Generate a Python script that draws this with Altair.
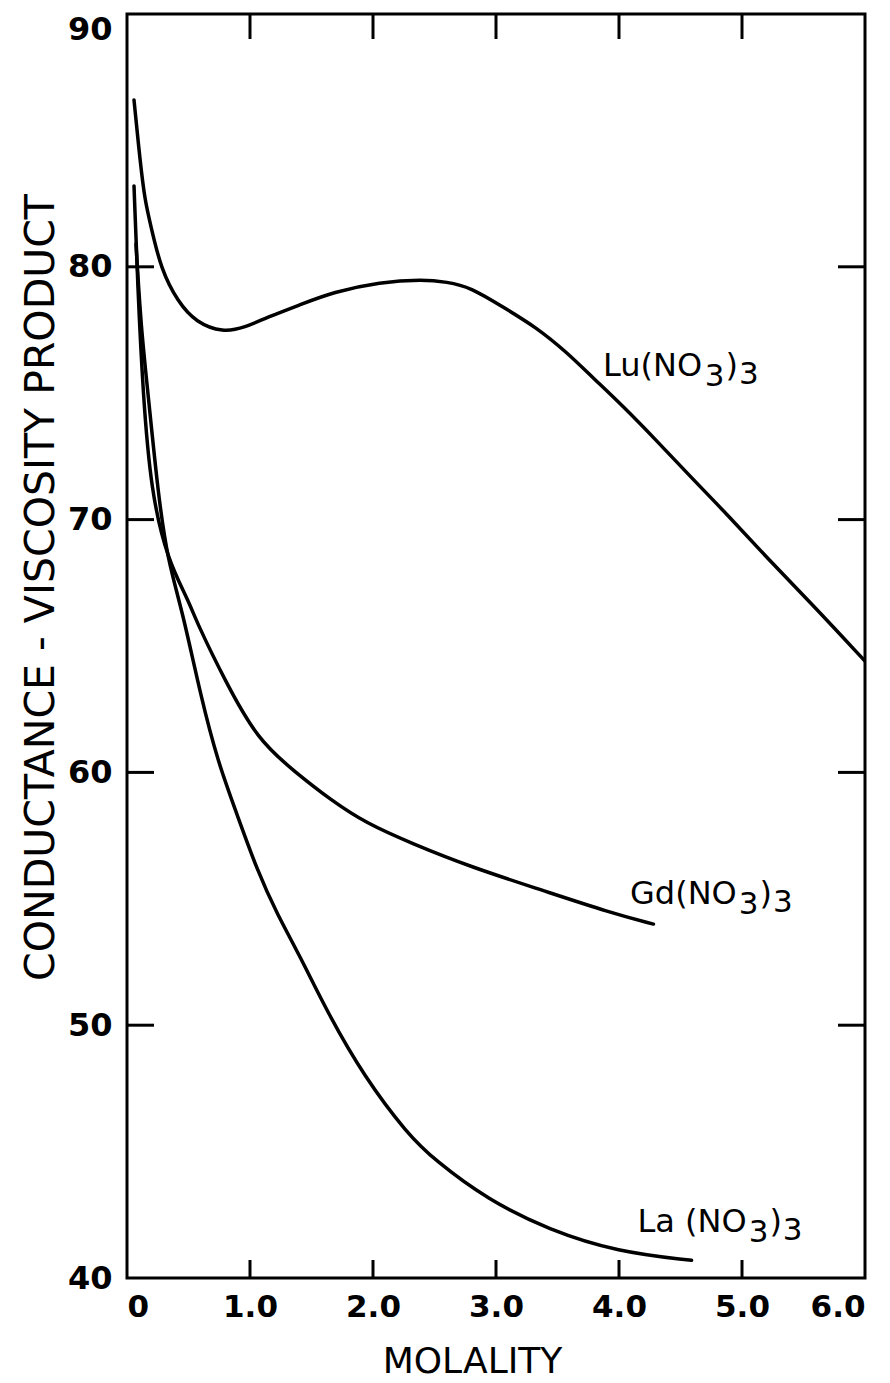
import altair as alt
import pandas as pd

# Conductance-viscosity product versus molality for three rare-earth nitrates
lu_m = [0.057, 0.106, 0.146, 0.195, 0.276, 0.415, 0.561, 0.780, 0.959, 1.138,
        1.407, 1.675, 2.057, 2.407, 2.60, 2.79, 3.06, 3.33, 3.58, 3.79, 4.03,
        4.31, 4.60, 4.90, 5.20, 5.58, 6.00]
lu_v = [86.6, 84.2, 82.6, 81.6, 79.9, 78.6, 77.8, 77.4, 77.6, 78.0,
        78.5, 79.0, 79.4, 79.5, 79.4, 79.2, 78.4, 77.6, 76.6, 75.6, 74.5,
        73.1, 71.6, 70.1, 68.5, 66.6, 64.4]

gd_m = [0.057, 0.089, 0.13, 0.195, 0.33, 0.50, 0.57, 0.80, 1.06, 1.37, 1.66,
        1.94, 2.31, 2.80, 3.37, 3.93, 4.28]
gd_v = [83.2, 79.0, 75.0, 71.1, 68.4, 66.8, 65.9, 63.6, 61.3, 60.0, 58.9,
        58.0, 57.2, 56.25, 55.35, 54.45, 54.0]

la_m = [0.073, 0.114, 0.171, 0.252, 0.33, 0.45, 0.60, 0.74, 0.89, 1.06, 1.22,
        1.41, 1.63, 1.93, 2.28, 2.50, 2.93, 3.43, 3.99, 4.59]
la_v = [80.9, 77.6, 75.0, 71.05, 68.4, 66.4, 63.0, 60.4, 58.4, 56.1, 54.4,
        52.7, 50.5, 47.95, 45.7, 44.67, 43.1, 41.9, 41.03, 40.7]

x_ticks = [0, 1, 2, 3, 4, 5, 6]
y_ticks = [40, 50, 60, 70, 80, 90]
inner_x_ticks = [1, 2, 3, 4, 5]
inner_y_ticks = [50, 60, 70, 80]

# label anchors (molality, product) and the formula head drawn before "(NO3)3"
label_heads = ["Lu(NO", "Gd(NO", "La (NO"]
label_m = [3.87, 4.09, 4.15]
label_v = [75.7, 54.8, 41.8]

W, H = 738, 1264
FONT = "DejaVu Sans"
LABEL_SIZE = 32
SUB_SIZE = 31

# approximate DejaVu Sans advance widths (em) for laying out the formula pieces
ADV = {"L": .557, "u": .634, "(": .390, "N": .748, "O": .787, "G": .775,
       "d": .635, "a": .613, " ": .318, ")": .390, "3": .636}


def text_width(s, size):
    return sum(ADV[c] for c in s) * size


frames = []
for name, m, v in [("Lu", lu_m, lu_v), ("Gd", gd_m, gd_v), ("La", la_m, la_v)]:
    frames.append(pd.DataFrame({"salt": name, "m": m, "v": v}))
curves = pd.concat(frames, ignore_index=True)

x_scale = alt.Scale(domain=[0, 6], nice=False, zero=False)
y_scale = alt.Scale(domain=[40, 90], nice=False, zero=False)

lines = alt.Chart(curves).mark_line(
    color="black", strokeWidth=3.5, interpolate="basis", clip=True,
    strokeCap="round", strokeJoin="round",
).encode(
    x=alt.X("m:Q", scale=x_scale, axis=alt.Axis(
        values=x_ticks,
        labelExpr="datum.value == 0 ? '0' : format(datum.value, '.1f')",
        ticks=False, tickSize=0, domain=False, grid=False,
        labelPadding=14, labelFont=FONT, labelFontSize=31,
        labelFontWeight="bold", labelColor="black",
        title="MOLALITY", titleFont=FONT, titleFontSize=36,
        titleFontWeight="normal", titleColor="black",
        titleX=345, titleY=83, titleBaseline="middle", titleAlign="center",
    )),
    y=alt.Y("v:Q", scale=y_scale, axis=alt.Axis(
        values=y_ticks, format="d",
        ticks=False, tickSize=0, domain=False, grid=False,
        labelPadding=15, labelFont=FONT, labelFontSize=32,
        labelFontWeight="bold", labelColor="black",
        labelBaseline={"condition": {"test": "datum.value == 90", "value": "top"},
                       "value": "middle"},
        title="CONDUCTANCE - VISCOSITY PRODUCT", titleFont=FONT,
        titleFontSize=41, titleFontWeight="normal", titleColor="black",
        titleAngle=270, titleX=-86, titleY=573,
        titleBaseline="middle", titleAlign="center",
    )),
    detail="salt:N",
)

# inward tick marks on all four sides of the frame
xt = pd.DataFrame({"m": inner_x_ticks})
yt = pd.DataFrame({"v": inner_y_ticks})
tick_style = dict(color="black", strokeWidth=3)
ticks_bottom = alt.Chart(xt).mark_rule(**tick_style).encode(
    x=alt.X("m:Q", scale=x_scale), y=alt.value(H), y2=alt.value(H - 18))
ticks_top = alt.Chart(xt).mark_rule(**tick_style).encode(
    x=alt.X("m:Q", scale=x_scale), y=alt.value(0), y2=alt.value(25))
ticks_left = alt.Chart(yt).mark_rule(**tick_style).encode(
    y=alt.Y("v:Q", scale=y_scale), x=alt.value(0), x2=alt.value(27))
ticks_right = alt.Chart(yt).mark_rule(**tick_style).encode(
    y=alt.Y("v:Q", scale=y_scale), x=alt.value(W), x2=alt.value(W - 27))

# curve labels: head text, lowered "3", ")" and a lowered final "3"
label_layers = []
for head, m, v in zip(label_heads, label_m, label_v):
    src = pd.DataFrame({"m": [m], "v": [v]})
    w_head = text_width(head, LABEL_SIZE)
    w_three = text_width("3", SUB_SIZE)
    w_paren = text_width(")", LABEL_SIZE)
    pieces = [
        (head, 0, 0, LABEL_SIZE),
        ("3", w_head + 2, 10, SUB_SIZE),
        (")", w_head + 2 + w_three + 1, 0, LABEL_SIZE),
        ("3", w_head + 2 + w_three + 1 + w_paren + 1, 8, SUB_SIZE),
    ]
    for txt, dx, dy, size in pieces:
        label_layers.append(
            alt.Chart(src).mark_text(
                text=txt, dx=dx, dy=dy, align="left", baseline="alphabetic",
                font=FONT, fontSize=size, color="black",
            ).encode(x=alt.X("m:Q", scale=x_scale), y=alt.Y("v:Q", scale=y_scale))
        )

chart = alt.layer(
    lines, ticks_bottom, ticks_top, ticks_left, ticks_right, *label_layers
).properties(
    width=W, height=H,
    autosize=alt.AutoSizeParams(type="none"),
    padding={"left": 127, "top": 14, "right": 25, "bottom": 105},
    background="white",
).configure_view(stroke="black", strokeWidth=3)

chart.save("out.html", embed_options={"renderer": "svg", "actions": False})
